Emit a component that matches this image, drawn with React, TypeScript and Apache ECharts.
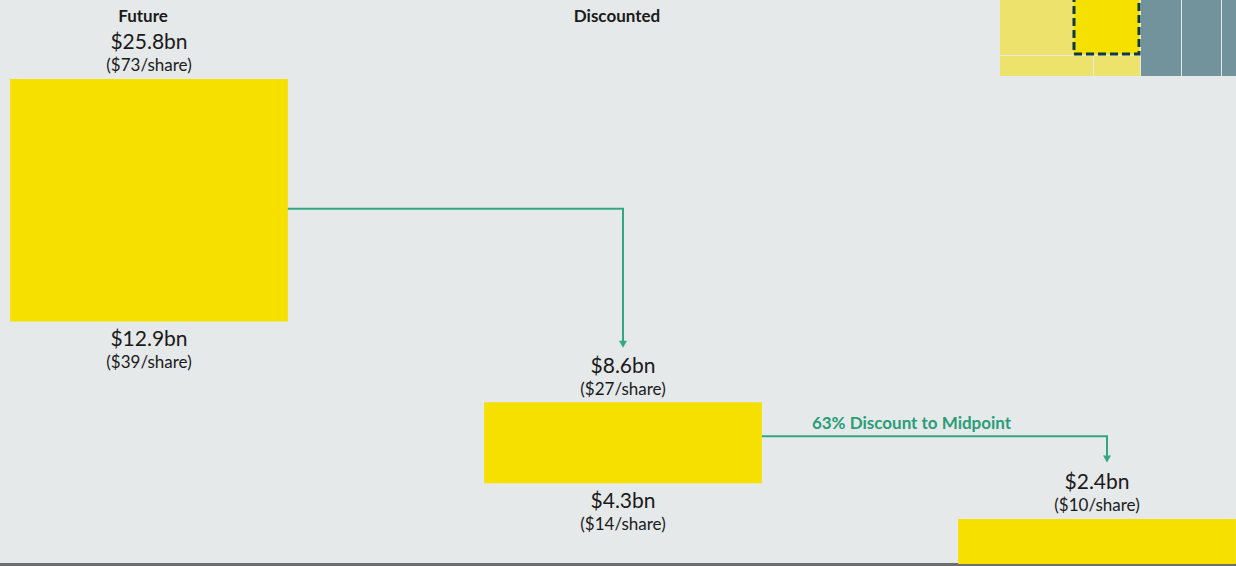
import React, { useEffect, useRef } from "react";
import * as echarts from "echarts";

const categories = ["Future", "Discounted", ""];
const lowValues = [12.9, 4.3, 0];
const highValues = [25.8, 8.6, 2.4];
const highLabels = ["$25.8bn", "$8.6bn", "$2.4bn"];
const highShare = ["($73/share)", "($27/share)", "($10/share)"];
const lowLabels = ["$12.9bn", "$4.3bn", ""];
const lowShare = ["($39/share)", "($14/share)", ""];
// connectors: [fromCategory, lineLevel, toCategory, arrowEnd, label]
const connectors: [number, number, number, number, string][] = [
  [0, 18.9, 1, 11.5, ""],
  [1, 6.8, 2, 5.4, "63% Discount to Midpoint"],
];

const BAR_RATIO = 0.586;
const YELLOW = "#f5e000";
const GREEN = "#35a683";
const FONT = "Lato, 'Noto Sans', sans-serif";

export default function App() {
  const ref = useRef<HTMLDivElement>(null);
  useEffect(() => {
    if (!ref.current) return;
    const chart = echarts.init(ref.current, undefined, { renderer: "svg" });
    const rich = {
      a: { fontSize: 21, lineHeight: 24, color: "#1a1a1a", fontFamily: FONT },
      b: { fontSize: 17, lineHeight: 24, color: "#1a1a1a", fontFamily: FONT },
    };
    chart.setOption({
      animation: false,
      backgroundColor: "#e6e9ea",
      grid: { left: -88, right: -98, top: 0, bottom: 2, outerBoundsMode: "none", containLabel: false },
      xAxis: [
        {
          type: "category",
          data: categories,
          position: "bottom",
          axisLine: { show: true, lineStyle: { color: "#6e6e6e", width: 3 } },
          axisTick: { show: false },
          axisLabel: { show: false },
        },
        {
          type: "category",
          data: categories,
          position: "top",
          axisLine: { show: false },
          axisTick: { show: false },
          axisLabel: {
            show: true,
            inside: true,
            margin: 7,
            fontSize: 17,
            fontWeight: "bold",
            color: "#1a1a1a",
            fontFamily: FONT,
            padding: [0, 12, 0, 0],
          },
        },
      ],
      yAxis: { type: "value", min: 0, max: 30, show: false },
      series: [
        {
          type: "bar",
          stack: "range",
          barWidth: BAR_RATIO * 100 + "%",
          data: lowValues,
          itemStyle: { color: "transparent" },
          label: {
            show: true,
            position: "insideTop",
            distance: 4,
            formatter: (p: any) =>
              lowLabels[p.dataIndex]
                ? `{a|${lowLabels[p.dataIndex]}}\n{b|${lowShare[p.dataIndex]}}`
                : "",
            rich,
          },
        },
        {
          type: "bar",
          stack: "range",
          barWidth: BAR_RATIO * 100 + "%",
          data: highValues.map((h, i) => +(h - lowValues[i]).toFixed(2)),
          itemStyle: { color: YELLOW },
          label: {
            show: true,
            position: "top",
            distance: 2,
            formatter: (p: any) =>
              `{a|${highLabels[p.dataIndex]}}\n{b|${highShare[p.dataIndex]}}`,
            rich,
          },
        },
        {
          type: "custom",
          data: connectors,
          encode: { x: 0, y: 1 },
          renderItem: (params: any, api: any) => {
            const from = api.value(0);
            const level = api.value(1);
            const to = api.value(2);
            const end = api.value(3);
            const label = connectors[params.dataIndex][4];
            const p0 = api.coord([from, level]);
            const p1 = api.coord([to, end]);
            const half = (api.size([1, 0])[0] * BAR_RATIO) / 2;
            const sx = p0[0] + half;
            const y = p0[1];
            const ex = p1[0] + (label ? 10 : 0);
            const ey = p1[1];
            const children: any[] = [
              {
                type: "polyline",
                shape: { points: [[sx, y], [ex, y], [ex, ey - 6]] },
                style: { stroke: GREEN, lineWidth: 2, fill: "none" },
              },
              {
                type: "polygon",
                shape: { points: [[ex - 4, ey - 7], [ex + 4, ey - 7], [ex, ey]] },
                style: { fill: GREEN },
              },
            ];
            if (label) {
              children.push({
                type: "text",
                style: {
                  x: sx + 50,
                  y: y - 5,
                  text: label,
                  fill: "#2a9d78",
                  font: `bold 17px ${FONT}`,
                  textAlign: "left",
                  textVerticalAlign: "bottom",
                },
              });
            }
            return { type: "group", children };
          },
          z: 5,
        },
      ],
      graphic: [
        { type: "rect", shape: { x: 1000, y: 0, width: 140, height: 55 }, style: { fill: "#ede26c" } },
        { type: "rect", shape: { x: 1000, y: 56, width: 93, height: 20 }, style: { fill: "#ede26c" } },
        { type: "rect", shape: { x: 1094, y: 56, width: 46, height: 20 }, style: { fill: "#ede26c" } },
        { type: "rect", shape: { x: 1141, y: 0, width: 40, height: 76 }, style: { fill: "#72929c" } },
        { type: "rect", shape: { x: 1182, y: 0, width: 39, height: 76 }, style: { fill: "#72929c" } },
        { type: "rect", shape: { x: 1222, y: 0, width: 14, height: 76 }, style: { fill: "#72929c" } },
        {
          type: "rect",
          shape: { x: 1074, y: -4, width: 65, height: 58 },
          style: { fill: YELLOW, stroke: "#0e3a3c", lineWidth: 3, lineDash: [8, 4] },
        },
      ],
    });
    return () => chart.dispose();
  }, []);
  return (
    <div
      ref={ref}
      style={{ position: "fixed", left: 0, top: 0, width: 1236, height: 566 }}
    />
  );
}
